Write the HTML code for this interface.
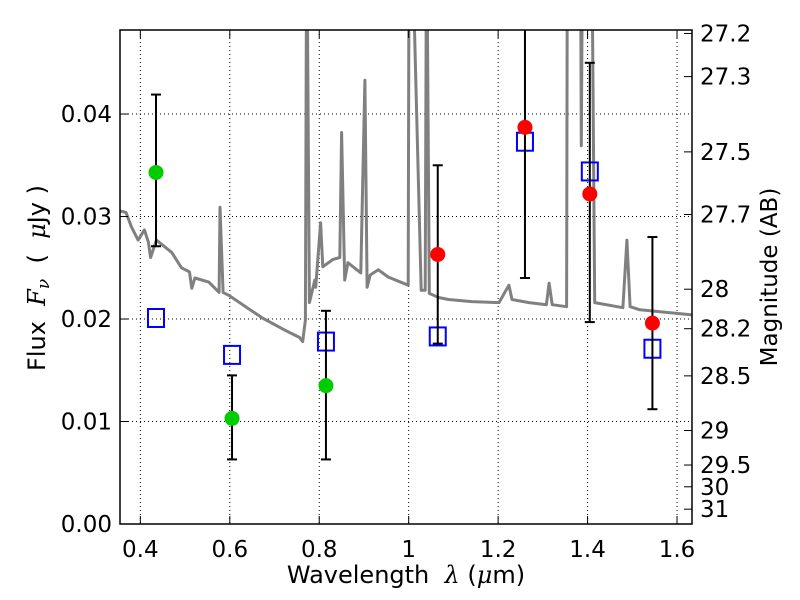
<!DOCTYPE html>
<html><head><meta charset="utf-8"><style>
html,body{margin:0;padding:0;background:#fff;}
svg{display:block;font-family:"DejaVu Sans","Liberation Sans",sans-serif;}
</style></head><body>
<svg id="chart" width="800" height="600" viewBox="0 0 800 600" xmlns="http://www.w3.org/2000/svg">
<defs><clipPath id="clip"><rect x="120" y="30" width="572" height="494"/></clipPath></defs>
<rect x="0" y="0" width="800" height="600" fill="#fff"/>
<g id="grid"></g>
<g id="spec" clip-path="url(#clip)"></g>
<g id="marks"></g>
<g id="axes"></g>
<text x="406" y="583" font-size="24" text-anchor="middle">Wavelength&#160;&#160;<tspan font-family="DejaVu Serif" font-style="italic">λ</tspan> (<tspan font-family="DejaVu Serif" font-style="italic">μ</tspan>m)</text>
<text transform="translate(45,278) rotate(-90)" font-size="24" text-anchor="middle">Flux&#160;&#160;<tspan font-family="DejaVu Serif" font-style="italic">F<tspan font-size="17" dy="4">ν</tspan></tspan><tspan dy="-4">&#160;&#160;(&#160;&#160;</tspan><tspan font-family="DejaVu Serif" font-style="italic">μ</tspan>Jy )</text>
<text transform="translate(777,277) rotate(-90)" font-size="23" text-anchor="middle">Magnitude (AB)</text>
</svg>
<script>
const xTicks=[0.4,0.6,0.8,1.0,1.2,1.4,1.6];
const xTickLabels=["0.4","0.6","0.8","1","1.2","1.4","1.6"];
const yTicks=[0,0.01,0.02,0.03,0.04];
const yTickLabels=["0.00","0.01","0.02","0.03","0.04"];
const magTicks=[27.2,27.3,27.5,27.7,28,28.2,28.5,29,29.5,30,31];
const magTickLabels=["27.2","27.3","27.5","27.7","28","28.2","28.5","29","29.5","30","31"];
const specWave=[0.350,0.368,0.380,0.395,0.409,0.418,0.423,0.436,0.470,0.492,0.510,0.515,0.522,0.553,0.576,0.578,0.585,0.598,0.673,0.724,0.756,0.763,0.769,0.772,0.778,0.790,0.792,0.803,0.808,0.830,0.846,0.850,0.857,0.864,0.893,0.902,0.907,0.914,0.932,0.954,0.999,1.001,1.006,1.028,1.037,1.040,1.046,1.067,1.089,1.141,1.202,1.224,1.231,1.269,1.308,1.314,1.321,1.353,1.355,1.384,1.386,1.389,1.409,1.416,1.479,1.488,1.495,1.517,1.634];
const specFlux=[0.0306,0.0304,0.0290,0.0277,0.0287,0.0275,0.0260,0.0277,0.0265,0.0250,0.0246,0.0230,0.0240,0.0236,0.0226,0.0309,0.0226,0.0223,0.0201,0.0189,0.0182,0.0178,0.0199,0.0600,0.0216,0.0238,0.0231,0.0294,0.0251,0.0258,0.0260,0.0382,0.0238,0.0255,0.0245,0.0433,0.0231,0.0243,0.0248,0.0241,0.0233,0.0600,0.0600,0.0228,0.0228,0.0600,0.0225,0.0221,0.0219,0.0217,0.0216,0.0233,0.0219,0.0216,0.0214,0.0235,0.0214,0.0212,0.0600,0.0600,0.0369,0.0600,0.0600,0.0216,0.0211,0.0277,0.0212,0.0209,0.0204];
const obsWave=[0.435,0.605,0.815,1.065,1.26,1.405,1.545];
const obsFlux=[0.0343,0.0103,0.0135,0.0263,0.0387,0.0322,0.0196];
const obsLow=[0.0271,0.0063,0.0063,0.0176,0.0240,0.0197,0.0112];
const obsHigh=[0.0419,0.0145,0.0208,0.0350,0.0520,0.0450,0.0280];
const obsColor=["#00cc00","#00cc00","#00cc00","#ff0000","#ff0000","#ff0000","#ff0000"];
const modelFlux=[0.0201,0.0165,0.0178,0.0183,0.0373,0.0344,0.0171];

const NS="http://www.w3.org/2000/svg";
const L=120,R=692,T=30,B=524;
const xmin=0.3545,xmax=1.6335,ymin=0,ymax=0.0482;
const X=v=>L+(v-xmin)/(xmax-xmin)*(R-L);
const Y=v=>B-(v-ymin)/(ymax-ymin)*(B-T);
const M=m=>Y(Math.pow(10,(23.9-m)/2.5));
function mk(tag,attrs,parent){const e=document.createElementNS(NS,tag);for(const k in attrs)e.setAttribute(k,attrs[k]);parent.appendChild(e);return e;}
const grid=document.getElementById('grid'),axes=document.getElementById('axes'),spec=document.getElementById('spec'),marks=document.getElementById('marks');

xTicks.forEach((t,i)=>{
  const g=mk('line',{x1:X(t),x2:X(t),y1:T,y2:B,stroke:'#000','stroke-width':1,'stroke-dasharray':'1,3'},grid);
  
  
  mk('line',{x1:X(t),x2:X(t),y1:B,y2:B-8,stroke:'#000','stroke-width':1},axes);
  mk('line',{x1:X(t),x2:X(t),y1:T,y2:T+8,stroke:'#000','stroke-width':1},axes);
  const tx=mk('text',{x:X(t),y:B+33,'font-size':23,'text-anchor':'middle'},axes);
  tx.textContent=xTickLabels[i];
  
  
});
yTicks.forEach((t,i)=>{
  if(t>0){const g=mk('line',{x1:L,x2:R,y1:Y(t),y2:Y(t),stroke:'#000','stroke-width':1,'stroke-dasharray':'1,3'},grid);
  
  }
  mk('line',{x1:L,x2:L+8,y1:Y(t),y2:Y(t),stroke:'#000','stroke-width':1},axes);
  const tx=mk('text',{x:L-8,y:Y(t)+8,'font-size':23,'text-anchor':'end'},axes);
  tx.textContent=yTickLabels[i];
  
  
});
magTicks.forEach((m,i)=>{
  const y=M(m);
  mk('line',{x1:R,x2:R-8,y1:y,y2:y,stroke:'#000','stroke-width':1},axes);
  const tx=mk('text',{x:R+8,y:y+8,'font-size':23,'text-anchor':'start'},axes);
  tx.textContent=magTickLabels[i];
  
  
});
const fr=mk('rect',{x:L,y:T,width:R-L,height:B-T,fill:'none',stroke:'#000','stroke-width':1.5},axes);



let d=specWave.map((w,i)=>(i?'L':'M')+X(w).toFixed(1)+','+Y(specFlux[i]).toFixed(1)).join(' ');
const sp=mk('path',{d:d,fill:'none',stroke:'#808080','stroke-width':3,'stroke-linejoin':'round'},spec);



obsWave.forEach((w,i)=>{
  const x=X(w);
  const sq=mk('rect',{x:x-8,y:Y(modelFlux[i])-9,width:16,height:18,fill:'none',stroke:'#0000ff','stroke-width':2},marks);
  
  
  const yh=Math.max(Y(obsHigh[i]),T),yl=Y(obsLow[i]);
  const eb=mk('line',{x1:x,x2:x,y1:yh,y2:yl,stroke:'#000','stroke-width':2},marks);
  
  
  if(Y(obsHigh[i])>=T) mk('line',{x1:x-5,x2:x+5,y1:yh,y2:yh,stroke:'#000','stroke-width':2},marks);
  mk('line',{x1:x-5,x2:x+5,y1:yl,y2:yl,stroke:'#000','stroke-width':2},marks);
  const c=mk('circle',{cx:x,cy:Y(obsFlux[i]),r:7.5,fill:obsColor[i]},marks);
  
  
});
</script>
</body></html>
